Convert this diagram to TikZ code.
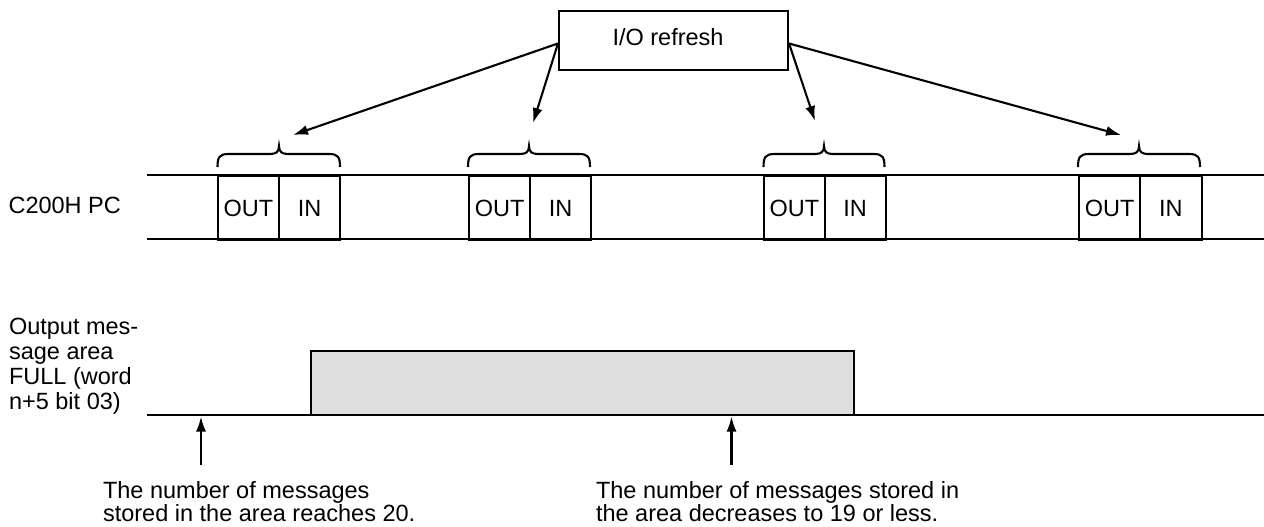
\documentclass[tikz,border=0pt]{standalone}
\usepackage{fontspec}
\setmainfont{Liberation Sans}
\usetikzlibrary{arrows.meta,calc}
\definecolor{sigfill}{RGB}{222,222,222}
\newcommand\ioBrace[4]{%
  \draw (#2,167) .. controls (#2,157) and (#2+2,154) .. (#2+11,154) -- (#3-9,154)
    .. controls (#3-3,154) and (#3,152) .. (#3,146)
    .. controls (#3,152) and (#3+3,154) .. (#3+9,154) -- (#4-11,154)
    .. controls (#4-2,154) and (#4,157) .. (#4,167);
  \coordinate (#1) at (#3,146);}
\newcommand\ioGroup[4]{%
  \node[iocell, minimum width={#3-#2}, anchor=north west] (out#1) at (#2,175) {OUT};
  \node[iocell, minimum width={#4-#3}, anchor=north west] (in#1) at (#3,175) {IN};}
\begin{document}
\begin{tikzpicture}[x=1pt, y=-1pt, line width=2.1pt,
  font=\fontsize{23.5}{25}\selectfont,
  iocell/.style={draw, inner sep=0pt, minimum height=64pt},
  arr/.style={-{Latex[length=15pt,width=10pt]}},
  lbl/.style={inner sep=0pt, align=left}]
\useasboundingbox (0,0) rectangle (1264,527);

% I/O refresh box
\node[draw, minimum width=229pt, minimum height=59pt, inner sep=0pt, text depth=8pt]
  (io) at (673.5,40.5) {\makebox[122pt][l]{I/O refresh}};

% C200H PC timeline
\node[lbl, anchor=base west] (pc) at (7.5,213.3) {C200H PC};
\draw (146.7,175) -- (1264,175);
\draw (146.7,239) -- (1264,239);
\ioGroup{1}{216.7}{278}{339.3}
\ioGroup{2}{467.7}{529.3}{590}
\ioGroup{3}{763}{823.5}{884.5}
\ioGroup{4}{1078}{1139}{1200.5}

% braces
\ioBrace{b1}{217.5}{279}{340}
\ioBrace{b2}{468}{529}{590}
\ioBrace{b3}{763.5}{824}{884.5}
\ioBrace{b4}{1078}{1139}{1200}

% arrows from I/O refresh
\coordinate (t1) at (293,135);
\coordinate (t2) at (533,123);
\coordinate (t3) at (815,121);
\coordinate (t4) at (1121,135);
\draw[arr] ($(io.west)+(0,3)$) -- (t1);
\draw[arr] ($(io.west)+(0,3)$) -- (t2);
\draw[arr] ($(io.east)+(0,3)$) -- (t3);
\draw[arr] ($(io.east)+(0,3)$) -- (t4);

% FULL flag signal
\node[lbl, anchor=base west, font=\fontsize{23.5}{25}\selectfont] (full) at (8,409)
  {Output mes-\\sage area\\FULL (word\\n+5 bit 03)};
\filldraw[fill=sigfill] (311,415) -- (311,351) -- (854,351) -- (854,415);
\draw (146.7,415) -- (1264,415);

% event arrows
\coordinate (e1b) at (201,465);
\coordinate (e1t) at (201,416.5);
\coordinate (e2b) at (731.5,465);
\coordinate (e2t) at (731.5,416.5);
\draw[arr] (e1b) -- (e1t);
\draw[arr] (e2b) -- (e2t);

\node[lbl, anchor=base west, font=\fontsize{23.5}{23.5}\selectfont] (ev1) at (102,521.5)
  {The number of messages\\stored in the area reaches 20.};
\node[lbl, anchor=base west, font=\fontsize{23.5}{23.5}\selectfont] (ev2) at (595,521.5)
  {The number of messages stored in\\the area decreases to 19 or less.};
\end{tikzpicture}
\end{document}
